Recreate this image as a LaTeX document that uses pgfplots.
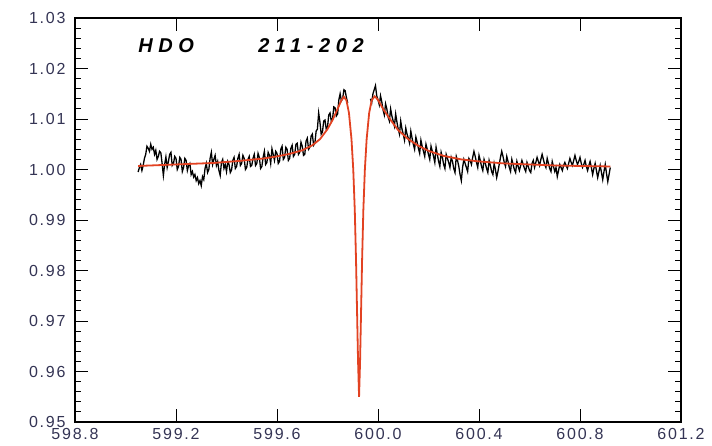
\documentclass[border=0pt]{standalone}
\usepackage{fontspec}
\setmainfont{Liberation Sans}
\usepackage{pgfplots}
\pgfplotsset{compat=1.18}

\definecolor{labelcol}{RGB}{52,52,84}
\definecolor{fitred}{RGB}{226,66,34}

% measured spectrum, blue wing of the line
\pgfplotstableread{
x y
599.050 0.9995
599.055 1.0004
599.060 1.0010
599.065 0.9998
599.070 1.0008
599.075 1.0022
599.080 1.0030
599.085 1.0046
599.090 1.0042
599.095 1.0036
599.100 1.0050
599.105 1.0040
599.110 1.0044
599.115 1.0030
599.120 1.0038
599.125 1.0020
599.130 1.0026
599.135 1.0036
599.140 1.0033
599.145 1.0012
599.150 0.9988
599.155 1.0010
599.160 1.0025
599.165 1.0004
599.170 1.0016
599.175 1.0030
599.180 1.0034
599.185 1.0008
599.190 1.0012
599.195 1.0026
599.200 1.0022
599.205 1.0000
599.210 1.0006
599.215 1.0024
599.220 1.0020
599.225 0.9996
599.230 1.0004
599.235 1.0022
599.240 1.0018
599.245 0.9998
599.250 1.0008
599.255 1.0012
599.260 0.9990
599.265 0.9996
599.270 0.9985
599.275 0.9990
599.280 0.9978
599.285 0.9984
599.290 0.9972
599.295 0.9978
599.300 0.9968
599.305 0.9986
599.310 0.9980
599.315 1.0002
599.320 1.0012
599.325 0.9994
599.330 1.0000
599.335 1.0022
599.340 1.0034
599.345 1.0010
599.350 1.0020
599.355 1.0028
599.360 1.0008
599.365 1.0016
599.370 0.9998
599.375 0.9988
599.380 1.0014
599.385 1.0020
599.390 1.0002
599.395 1.0010
599.400 0.9996
599.405 1.0016
599.410 1.0010
599.415 0.9994
599.420 0.9999
599.425 1.0018
599.430 1.0024
599.435 1.0002
599.440 1.0006
599.445 1.0022
599.450 1.0030
599.455 1.0008
599.460 1.0012
599.465 1.0028
599.470 1.0022
599.475 1.0000
599.480 1.0004
599.485 1.0020
599.490 1.0026
599.495 1.0006
599.500 1.0008
599.505 1.0022
599.510 1.0030
599.515 1.0008
599.520 1.0012
599.525 1.0032
599.530 1.0024
599.535 1.0002
599.540 1.0006
599.545 1.0024
599.550 1.0036
599.555 1.0010
599.560 1.0014
599.565 1.0034
599.570 1.0028
599.575 1.0012
599.580 1.0041
599.585 1.0030
599.590 1.0018
599.595 1.0036
599.600 1.0032
599.605 1.0012
599.610 1.0016
599.615 1.0040
599.620 1.0046
599.625 1.0020
599.630 1.0024
599.635 1.0044
599.640 1.0040
599.645 1.0018
599.650 1.0022
599.655 1.0042
599.660 1.0048
599.665 1.0026
599.670 1.0030
599.675 1.0050
599.680 1.0052
599.685 1.0030
599.690 1.0034
599.695 1.0054
599.700 1.0046
599.705 1.0028
599.710 1.0030
599.715 1.0056
599.720 1.0062
599.725 1.0040
599.730 1.0044
599.735 1.0066
599.740 1.0070
599.745 1.0048
599.750 1.0052
599.755 1.0076
599.760 1.0080
599.765 1.0112
599.770 1.0094
599.775 1.0070
599.780 1.0074
599.785 1.0096
599.790 1.0098
599.795 1.0080
599.800 1.0084
599.805 1.0108
599.810 1.0112
599.815 1.0096
599.820 1.0100
599.825 1.0124
599.830 1.0122
599.835 1.0106
599.840 1.0110
599.845 1.0138
599.850 1.0150
599.855 1.0136
599.860 1.0140
599.865 1.0158
599.870 1.0156
599.875 1.0142
599.880 1.0132
}\specleft

% measured spectrum, red wing of the line
\pgfplotstableread{
x y
599.970 1.0140
599.975 1.0132
599.980 1.0150
599.985 1.0158
599.990 1.0166
599.995 1.0146
600.000 1.0138
600.005 1.0128
600.010 1.0146
600.015 1.0134
600.020 1.0118
600.025 1.0108
600.030 1.0130
600.035 1.0120
600.040 1.0104
600.045 1.0096
600.050 1.0120
600.055 1.0106
600.060 1.0096
600.065 1.0086
600.070 1.0110
600.075 1.0094
600.080 1.0080
600.085 1.0070
600.090 1.0096
600.095 1.0080
600.100 1.0070
600.105 1.0058
600.110 1.0082
600.115 1.0070
600.120 1.0062
600.125 1.0052
600.130 1.0076
600.135 1.0062
600.140 1.0050
600.145 1.0040
600.150 1.0064
600.155 1.0054
600.160 1.0042
600.165 1.0032
600.170 1.0058
600.175 1.0046
600.180 1.0036
600.185 1.0026
600.190 1.0050
600.195 1.0040
600.200 1.0030
600.205 1.0020
600.210 1.0046
600.215 1.0036
600.220 1.0026
600.225 1.0014
600.230 1.0044
600.235 1.0030
600.240 1.0016
600.245 1.0006
600.250 1.0034
600.255 1.0024
600.260 1.0010
600.265 1.0002
600.270 1.0030
600.275 1.0022
600.280 1.0014
600.285 1.0004
600.290 1.0024
600.295 1.0016
600.300 1.0002
600.305 0.9994
600.310 1.0026
600.315 1.0018
600.320 1.0006
600.325 0.9990
600.330 0.9978
600.335 1.0004
600.340 1.0020
600.345 1.0012
600.350 1.0004
600.355 0.9996
600.360 1.0022
600.365 1.0018
600.370 1.0010
600.375 1.0024
600.380 1.0036
600.385 1.0026
600.390 1.0014
600.395 1.0004
600.400 1.0028
600.405 1.0018
600.410 1.0006
600.415 0.9998
600.420 1.0020
600.425 1.0012
600.430 1.0002
600.435 0.9994
600.440 1.0018
600.445 1.0008
600.450 0.9996
600.455 0.9990
600.460 1.0012
600.465 1.0000
600.470 0.9984
600.475 0.9996
600.480 1.0010
600.485 1.0024
600.490 1.0036
600.495 1.0026
600.500 1.0014
600.505 1.0006
600.510 1.0026
600.515 1.0016
600.520 1.0004
600.525 0.9996
600.530 1.0020
600.535 1.0010
600.540 1.0000
600.545 0.9994
600.550 1.0016
600.555 1.0006
600.560 0.9998
600.565 1.0008
600.570 1.0018
600.575 1.0010
600.580 1.0002
600.585 0.9996
600.590 1.0014
600.595 1.0006
600.600 0.9998
600.605 0.9994
600.610 1.0012
600.615 1.0018
600.620 1.0004
600.625 1.0014
600.630 1.0024
600.635 1.0016
600.640 1.0008
600.645 1.0020
600.650 1.0030
600.655 1.0020
600.660 1.0010
600.665 1.0004
600.670 1.0022
600.675 1.0012
600.680 1.0002
600.685 0.9996
600.690 1.0016
600.695 1.0006
600.700 0.9996
600.705 1.0004
600.710 0.9986
600.715 0.9998
600.720 1.0010
600.725 1.0004
600.730 0.9998
600.735 1.0008
600.740 1.0014
600.745 1.0008
600.750 1.0002
600.755 1.0012
600.760 1.0022
600.765 1.0014
600.770 1.0008
600.775 1.0018
600.780 1.0028
600.785 1.0018
600.790 1.0010
600.795 1.0016
600.800 1.0024
600.805 1.0012
600.810 1.0004
600.815 1.0010
600.820 1.0018
600.825 1.0006
600.830 0.9998
600.835 1.0008
600.840 1.0016
600.845 1.0004
600.850 0.9990
600.855 1.0002
600.860 1.0012
600.865 0.9998
600.870 0.9984
600.875 0.9996
600.880 1.0008
600.885 0.9994
600.890 0.9980
600.895 0.9996
600.900 1.0010
600.905 0.9992
600.910 0.9976
600.915 0.9990
600.920 1.0004
}\specright

% line profile fit
\pgfplotstableread{
x y
599.05 1.0007
599.15 1.0009
599.25 1.0011
599.35 1.0013
599.45 1.0017
599.55 1.0022
599.60 1.0026
599.65 1.0031
599.70 1.0038
599.74 1.0048
599.77 1.0060
599.80 1.0080
599.82 1.0098
599.84 1.0120
599.855 1.0137
599.865 1.0144
599.875 1.0137
599.885 1.0112
599.895 1.0060
599.902 1.0000
599.908 0.9920
599.913 0.9820
599.917 0.9720
599.921 0.9620
599.925 0.9550
599.929 0.9620
599.933 0.9720
599.937 0.9820
599.942 0.9920
599.948 1.0000
599.955 1.0060
599.965 1.0112
599.975 1.0137
599.987 1.0145
600.00 1.0138
600.02 1.0120
600.05 1.0098
600.08 1.0078
600.12 1.0060
600.16 1.0047
600.20 1.0037
600.26 1.0027
600.33 1.0020
600.40 1.0016
600.50 1.0012
600.60 1.0010
600.70 1.0008
600.80 1.0007
600.92 1.0006
}\fitcurve

\begin{document}
\begin{tikzpicture}
\useasboundingbox (-75pt,-23pt) rectangle (637pt,422pt);
\begin{axis}[
  scale only axis,
  width=606pt, height=404pt,
  xmin=598.8, xmax=601.2,
  ymin=0.95, ymax=1.03,
  xtick={598.8,599.2,...,601.2},
  ytick={0.95,0.96,...,1.03},
  minor x tick num=3,
  minor y tick num=4,
  tick align=inside,
  tick pos=both,
  xticklabel pos=lower,
  yticklabel pos=left,
  major tick length=13pt,
  minor tick length=6pt,
  every tick/.style={black, line width=0.9pt},
  axis line style={line width=1.1pt},
  /pgf/number format/assume math mode=true,
  xticklabel style={/pgf/number format/fixed, /pgf/number format/fixed zerofill, /pgf/number format/precision=1, yshift=-3pt},
  yticklabel style={/pgf/number format/fixed, /pgf/number format/fixed zerofill, /pgf/number format/precision=2, xshift=-6pt},
  tick label style={font=\fontsize{16}{18}\selectfont\addfontfeature{LetterSpace=11}, text=labelcol},
  clip=false,
]
\addplot[black, line width=1.3pt] table {\specleft};
\addplot[black, line width=1.3pt] table {\specright};
\addplot[fitred, line width=1.8pt] table {\fitcurve};
\node[anchor=base west, inner sep=0pt,
      font=\fontsize{20}{22}\selectfont\bfseries\itshape\addfontfeature{LetterSpace=28}]
  at (axis cs:599.05,1.0231) {HDO};
\node[anchor=base west, inner sep=0pt,
      font=\fontsize{20}{22}\selectfont\bfseries\itshape\addfontfeature{LetterSpace=28}]
  at (axis cs:599.525,1.0231) {211-202};
\end{axis}
\end{tikzpicture}
\end{document}
